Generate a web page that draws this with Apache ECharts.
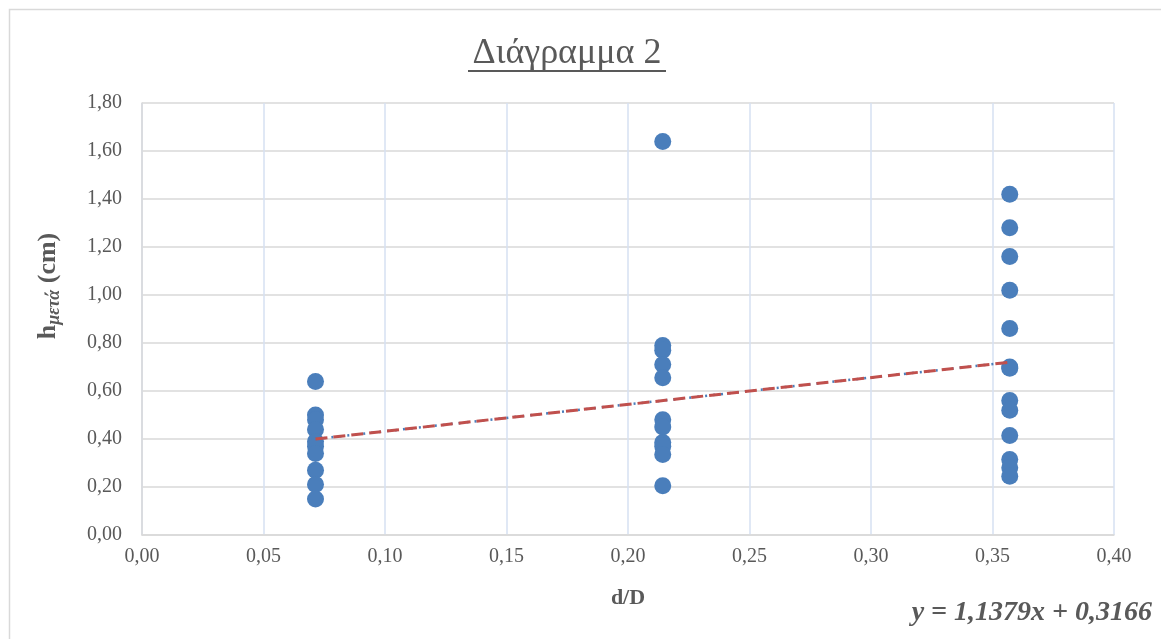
<!DOCTYPE html>
<html>
<head>
<meta charset="utf-8">
<script src="https://cdn.jsdelivr.net/npm/echarts@6/dist/echarts.min.js"></script>
<style>
  html, body { margin: 0; padding: 0; background: #fff; }
  #chart { width: 1161px; height: 639px; }
</style>
</head>
<body>
<div id="chart"></div>
<script>
// x positions of the three measurement groups (d/D)
const groupX = [0.0714, 0.2143, 0.3571];

// h after (cm) read per group
const group1 = [0.64, 0.50, 0.48, 0.44, 0.39, 0.37, 0.34, 0.27, 0.21, 0.15];
const group2 = [1.64, 0.79, 0.77, 0.71, 0.655, 0.48, 0.45, 0.385, 0.37, 0.335, 0.205];
const group3 = [1.42, 1.28, 1.16, 1.02, 0.86, 0.70, 0.695, 0.56, 0.52, 0.415, 0.315, 0.28, 0.245];

// trendline end points as drawn
const trendX = [0.0714, 0.3571];
const trendY = [0.40, 0.72];

const titleText = 'Διάγραμμα 2';
const equationText = 'y = 1,1379x + 0,3166';

const points = [];
[group1, group2, group3].forEach((g, i) => {
  g.forEach(v => points.push([groupX[i], v]));
});
const trend = trendX.map((x, i) => [x, trendY[i]]);

const fmt = v => v.toFixed(2).replace('.', ',');
const serif = '"Liberation Serif", "DejaVu Serif", serif';
const textColor = '#595959';

const chart = echarts.init(document.getElementById('chart'));
chart.setOption({
  animation: false,
  backgroundColor: '#fff',
  textStyle: { fontFamily: serif },
  graphic: [
    { type: 'rect', left: 7, top: 7, shape: { width: 1170, height: 650 }, style: { fill: 'none', stroke: '#d9d9d9', lineWidth: 1.5 } },
    {
      type: 'text', x: 567, y: 54,
      style: { text: titleText, fontFamily: serif, fontSize: 36, fill: textColor, align: 'center', verticalAlign: 'middle' }
    },
    { type: 'rect', left: 468, top: 70, shape: { width: 198, height: 2 }, style: { fill: textColor } },
    {
      type: 'text', x: 48, y: 286, rotation: Math.PI / 2,
      style: {
        text: '{a|h}{b|μετά}{a| (cm)}', align: 'center', verticalAlign: 'middle',
        rich: {
          a: { fontFamily: serif, fontSize: 26, fontWeight: 'bold', fill: textColor },
          b: { fontFamily: serif, fontSize: 18, fontWeight: 'bold', fontStyle: 'italic', fill: textColor, padding: [13, 0, 0, 0] }
        }
      }
    },
    {
      type: 'text', x: 1152, y: 613,
      style: { text: equationText, fontFamily: serif, fontSize: 28, fontWeight: 'bold', fontStyle: 'italic', fill: textColor, align: 'right', verticalAlign: 'middle' }
    }
  ],
  grid: { left: 142, right: 47, top: 103, bottom: 104 },
  xAxis: {
    type: 'value', min: 0, max: 0.4, interval: 0.05,
    name: 'd/D', nameLocation: 'middle', nameGap: 52,
    nameTextStyle: { fontFamily: serif, fontSize: 22, fontWeight: 'bold', color: textColor },
    axisLine: { show: true, lineStyle: { color: '#d9d9d9', width: 1.5 } },
    axisTick: { show: false },
    axisLabel: { formatter: fmt, fontFamily: serif, fontSize: 20, color: textColor, margin: 12 },
    splitLine: { show: true, lineStyle: { color: '#d6e0f2', width: 1.5 } }
  },
  yAxis: {
    type: 'value', min: 0, max: 1.8, interval: 0.2,
    axisLine: { show: true, lineStyle: { color: '#d9d9d9', width: 1.5 } },
    axisTick: { show: false },
    axisLabel: { formatter: fmt, fontFamily: serif, fontSize: 20, color: textColor, margin: 20 },
    splitLine: { show: true, lineStyle: { color: '#d9d9d9', width: 1.5 } }
  },
  series: [
    {
      type: 'scatter', data: points, symbol: 'circle', symbolSize: 17,
      itemStyle: { color: '#4a7ebb', opacity: 1 }, z: 2
    },
    {
      type: 'line', data: trend, symbol: 'none',
      lineStyle: { color: '#4a7ebb', width: 2.5, type: [2, 6] }, z: 3
    },
    {
      type: 'line', data: trend, symbol: 'none',
      lineStyle: { color: '#c0504d', width: 3, type: [12, 6] }, z: 4
    }
  ]
});
</script>
</body>
</html>
